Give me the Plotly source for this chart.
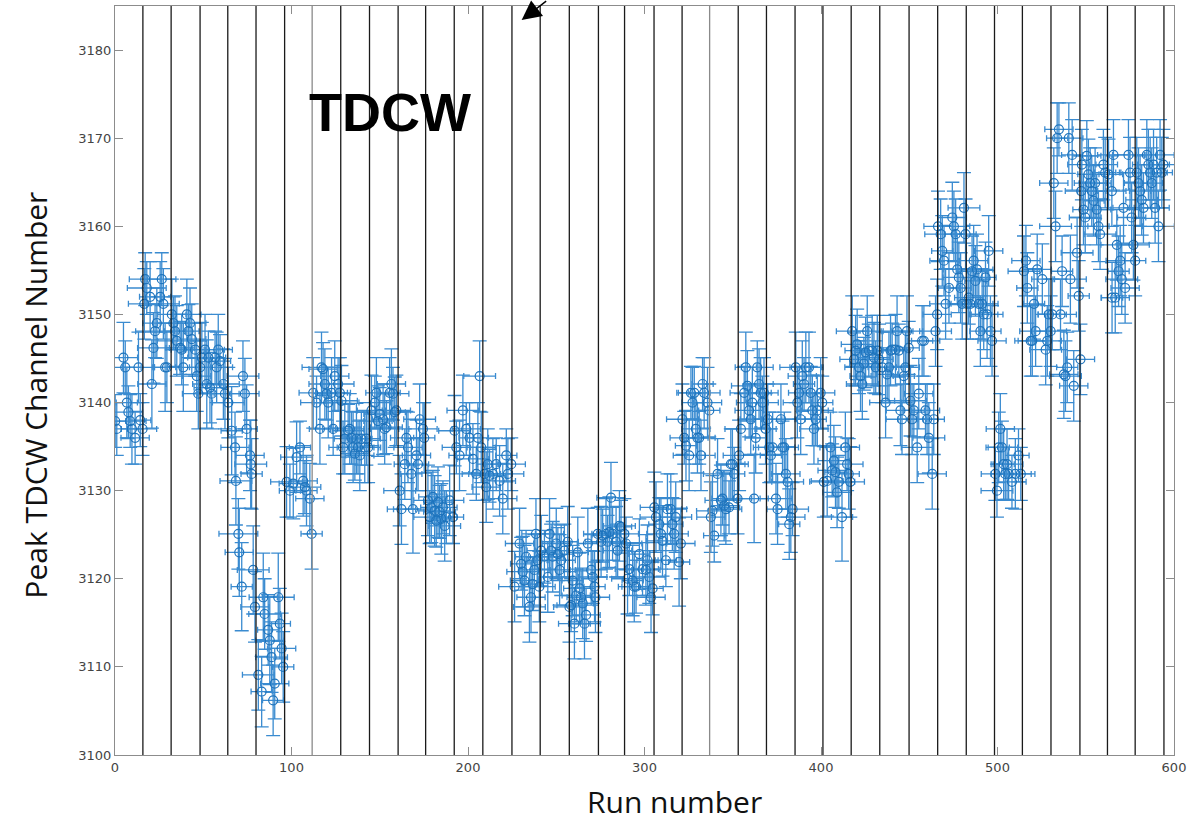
import plotly.graph_objects as go

# ---------------- data ----------------
RUN = [
    0.1, 1.0, 4.8, 5.8, 6.7, 7.6, 8.6, 9.6, 11.4, 13.3, 14.3, 15.6,
    16.6, 17.1, 18.0, 19.9, 20.9, 21.8, 22.7, 23.7, 25.6, 26.5, 27.4, 28.4, 29.4,
    32.2, 33.1, 34.0, 35.0, 36.9, 37.8, 38.7, 40.7, 41.6, 42.5, 43.5, 45.4, 46.3,
    47.2, 48.2, 49.2, 51.0, 52.0, 52.9, 53.8, 54.8, 56.7, 57.6, 58.5, 59.5, 61.4,
    62.3, 64.2, 66.1, 68.0, 68.5, 69.9, 70.4, 71.8, 72.5, 73.6, 74.6, 76.5, 76.9, 77.4,
    78.3, 79.3, 81.2, 83.1, 84.0, 84.8, 86.8, 87.7, 88.7, 89.6, 90.5, 92.5, 93.4, 94.4, 95.3,
    97.2, 99.1, 101.0, 102.9, 104.8, 106.6, 107.6, 108.5, 110.4, 111.4,
    112.3, 114.2, 116.1, 117.0, 117.9, 118.9, 119.9, 120.8, 122.7, 123.6, 124.5, 126.4, 127.4,
    128.3, 129.2, 130.2, 132.1, 133.0, 134.0, 134.9, 135.9, 136.8, 137.7, 138.7, 139.6, 141.5, 142.4, 143.4,
    145.3, 147.2, 148.1, 149.0, 150.0, 151.9, 152.8, 153.8, 155.6, 156.6, 157.5, 158.5, 159.4,
    161.3, 162.3, 164.2, 165.1, 166.0, 167.9, 168.8, 170.8, 171.7, 172.6, 174.5, 175.2,
    177.3, 178.3, 179.2, 180.1, 181.1, 182.0, 183.0, 183.9, 184.9, 185.8, 186.8, 187.7, 189.6, 191.5,
    192.4, 193.4, 195.2, 197.1, 199.0, 200.9, 202.8, 204.7, 205.6, 206.6, 207.5,
    209.4, 210.3, 211.2, 212.2, 214.1, 216.0, 217.9, 219.7, 221.7, 222.6, 224.5,
    226.4, 229.2, 230.1, 231.0, 232.0, 232.9, 234.8, 235.7, 236.6, 237.6, 238.5, 239.4, 240.4,
    241.5, 243.3, 245.2, 246.2, 247.1, 248.0, 250.0, 250.9, 251.9, 252.8, 254.6, 256.5,
    257.5, 258.4, 259.3, 260.3, 261.3, 262.2, 263.2, 264.1, 265.0, 266.0, 266.9, 267.9, 269.8, 270.7, 271.7, 272.2,
    273.5, 275.4, 276.3, 278.2, 279.1, 280.1, 281.0, 281.9, 283.9, 284.8, 285.8, 286.7, 288.6, 289.5,
    290.4, 291.4, 293.3, 294.2, 295.2, 297.1, 298.9, 300.8, 301.7, 302.7, 303.7, 304.6,
    305.6, 306.5, 308.4, 309.3, 310.2, 312.1, 313.0, 314.9, 315.8, 316.8, 317.7, 319.6, 320.6,
    321.5, 322.5, 323.5, 325.3, 326.3, 327.2, 328.2, 329.1, 330.0, 331.0, 332.0, 332.9, 333.8, 335.7, 336.7,
    337.6, 338.5, 339.5, 341.4, 343.3, 344.2, 345.1, 346.1, 347.9, 348.9, 349.8, 350.8, 352.7, 353.6,
    354.6, 356.5, 357.4, 358.3, 359.3, 360.2, 361.1, 362.1, 363.0, 363.9, 364.9, 365.8, 366.8, 367.7, 368.6,
    369.8, 370.7, 371.6, 372.6, 374.5, 375.4, 377.3, 378.2, 379.2, 380.1, 381.1, 382.0, 382.9, 383.9,
    385.7, 386.6, 387.6, 388.5, 389.4, 390.4, 391.4, 393.2, 394.2, 395.1, 396.0, 397.0, 397.9, 399.8, 400.7,
    401.6, 403.5, 405.4, 406.3, 407.3, 408.2, 409.1, 410.1, 411.9, 413.8, 414.8, 415.7, 416.6,
    417.7, 418.7, 419.6, 420.5, 421.5, 422.4, 423.4, 424.3, 425.3, 426.2, 427.1, 429.0, 430.0, 431.0, 431.9, 432.9,
    434.7, 436.6, 437.5, 438.5, 439.4, 440.3, 442.2, 443.1, 444.1, 445.0, 445.9, 446.9, 447.8, 448.7, 449.7,
    450.7, 451.6, 452.6, 454.5, 455.4, 457.3, 458.3, 459.2, 460.1, 461.1, 463.0, 463.9, 464.9, 465.8,
    466.3, 467.8, 468.7, 469.7, 470.6, 472.5, 474.4, 475.3, 476.3, 477.2, 478.1, 479.1, 480.0, 481.0, 481.9,
    482.7, 483.7, 484.6, 485.6, 486.5, 487.5, 488.4, 489.4, 490.3, 491.3, 492.2, 493.2, 494.1, 495.0, 496.0, 496.9,
    498.8, 499.7, 500.7, 501.6, 502.5, 503.5, 504.4, 505.4, 506.3, 508.2, 510.1, 511.9, 513.2,
    515.0, 516.1, 516.9, 518.8, 519.7, 520.7, 521.6, 522.5, 525.4, 527.3, 528.2, 529.1, 530.1, 531.0,
    531.9, 532.9, 533.8, 534.8, 535.7, 536.6, 537.6, 538.5, 539.5, 540.4, 541.3, 542.3, 543.2, 545.1, 546.0, 547.0,
    547.4, 547.8, 548.7, 549.7, 550.6, 551.5, 552.5, 553.4, 554.4, 555.3, 556.2, 557.2, 558.1, 560.0, 561.0, 562.9,
    564.8, 565.7, 564.9, 566.7, 567.6, 568.6, 569.5, 570.4, 571.4, 572.3, 574.2, 575.1, 576.0, 577.0, 578.0,
    578.9, 579.9, 580.8, 581.7, 582.7, 584.6, 585.5, 586.5, 587.4, 588.4, 589.3, 590.2, 591.2, 592.1, 593.1, 594.0,
]

PEAK = [
    3137.9, 3137.0, 3145.1, 3144.0, 3140.0, 3138.9, 3137.9, 3137.0, 3136.0, 3144.0, 3138.0, 3137.0,
    3151.2, 3154.0, 3153.0, 3152.0, 3142.1, 3146.2, 3148.1, 3149.0, 3152.0, 3154.0, 3151.2, 3144.0, 3144.0,
    3150.0, 3149.0, 3148.1, 3147.0, 3146.2, 3146.0, 3144.0, 3150.0, 3148.1, 3149.0, 3147.2, 3146.0, 3143.0,
    3141.0, 3144.0, 3145.1, 3146.0, 3142.1, 3145.1, 3141.7, 3141.0, 3145.1, 3144.0, 3146.0, 3144.7, 3142.1,
    3141.0, 3140.0, 3136.8, 3134.9, 3131.1, 3125.1, 3123.0, 3119.1, 3143.0, 3141.0, 3137.0, 3134.0, 3133.0, 3131.9,
    3121.0, 3116.8, 3109.1, 3107.2, 3117.9, 3116.0, 3114.2, 3113.0, 3111.1, 3106.2, 3108.1, 3117.9, 3114.9, 3112.1, 3110.0,
    3131.0, 3130.0, 3130.8, 3133.8, 3134.9, 3131.1, 3130.4, 3130.0, 3129.1, 3125.1,
    3141.1, 3140.0, 3137.0, 3144.0, 3143.8, 3142.1, 3141.0, 3140.0, 3141.1, 3137.0, 3143.0, 3142.1, 3141.1,
    3140.2, 3134.9, 3135.9, 3136.8, 3137.0, 3136.0, 3134.9, 3134.2, 3135.9, 3134.9, 3134.0, 3135.9, 3134.9, 3135.9, 3134.9,
    3139.1, 3140.0, 3141.1, 3137.9, 3138.7, 3138.1, 3137.0, 3137.2, 3141.1, 3142.1, 3141.0, 3138.9, 3139.1,
    3130.0, 3127.9, 3133.0, 3136.0, 3134.9, 3131.9, 3127.9, 3134.0, 3133.0, 3138.1, 3137.0, 3136.0,
    3128.9, 3127.0, 3128.1, 3129.3, 3127.7, 3126.6, 3128.7, 3127.6, 3126.8, 3128.1, 3126.0, 3127.0, 3128.9, 3127.0,
    3136.8, 3134.9, 3134.0, 3139.1, 3137.0, 3136.0, 3133.6, 3131.9, 3136.0, 3143.0, 3134.9,
    3131.9, 3130.4, 3133.0, 3131.7, 3131.9, 3133.0, 3131.1, 3129.1, 3134.0, 3131.9, 3133.0,
    3119.1, 3124.0, 3121.7, 3120.8, 3119.8, 3122.5, 3116.8, 3117.9, 3119.4, 3121.0, 3125.1, 3122.1, 3119.1,
    3123.2, 3122.5, 3120.2, 3125.1, 3123.2, 3122.5, 3124.0, 3122.8, 3121.0, 3122.1, 3123.2, 3124.2,
    3116.8, 3117.0, 3119.8, 3114.9, 3118.1, 3123.0, 3118.9, 3117.9, 3117.2, 3114.9, 3115.9, 3124.0, 3121.0, 3120.2, 3119.1, 3117.9,
    3125.1, 3124.2, 3124.9, 3125.1, 3124.2, 3125.3, 3129.2, 3125.1, 3124.2, 3123.2, 3126.0, 3125.9, 3125.1, 3124.0,
    3120.0, 3121.1, 3119.8, 3119.1, 3119.1, 3122.8, 3121.1, 3121.0, 3122.1, 3120.2, 3117.9, 3118.9,
    3128.1, 3127.0, 3126.2, 3125.1, 3124.3, 3122.1, 3127.9, 3127.9, 3126.2, 3125.1, 3127.0, 3121.9, 3124.0,
    3138.1, 3136.0, 3135.1, 3134.0, 3141.1, 3140.0, 3141.1, 3137.0, 3136.0, 3136.0, 3134.0, 3142.1, 3141.1, 3140.0, 3139.1,
    3127.0, 3127.7, 3124.9, 3131.9, 3128.9, 3129.1, 3128.3, 3127.9, 3128.1, 3133.0, 3133.0, 3131.9, 3129.1, 3134.0,
    3137.0, 3141.1, 3144.0, 3141.9, 3139.1, 3138.1, 3140.0, 3129.1, 3136.0, 3144.0, 3142.1, 3141.1, 3140.0, 3141.1, 3137.0,
    3138.1, 3134.9, 3134.0, 3134.9, 3129.1, 3127.9, 3138.1, 3134.9, 3134.9, 3131.9, 3131.0, 3126.2, 3127.0, 3127.9,
    3144.0, 3140.0, 3141.1, 3138.1, 3143.0, 3142.1, 3144.0, 3144.0, 3141.1, 3139.1, 3137.0, 3138.1, 3139.1, 3141.1, 3140.0,
    3131.0, 3131.1, 3134.9, 3132.3, 3133.4, 3132.1, 3129.8, 3131.0, 3127.0, 3134.9, 3133.0, 3131.9, 3131.0,
    3148.1, 3144.9, 3145.9, 3146.6, 3144.0, 3143.0, 3142.1, 3144.4, 3145.7, 3148.1, 3145.9, 3145.9, 3145.1, 3144.0, 3145.9, 3144.9,
    3144.0, 3140.0, 3143.2, 3144.0, 3145.9, 3146.0, 3146.0, 3148.1, 3145.9, 3139.1, 3138.1, 3143.0, 3144.0, 3148.1, 3146.2,
    3140.2, 3138.1, 3139.1, 3134.9, 3141.0, 3147.0, 3147.0, 3139.1, 3138.1, 3136.0, 3131.9, 3138.1, 3148.1, 3150.0,
    3160.0, 3159.1, 3157.2, 3156.1, 3151.2, 3153.0, 3161.0, 3160.0, 3159.1, 3155.1, 3154.2, 3153.0, 3151.2, 3162.1, 3159.1,
    3151.2, 3151.9, 3151.2, 3154.9, 3156.1, 3153.8, 3155.1, 3151.2, 3148.1, 3151.2, 3150.0, 3154.2, 3150.0, 3157.2, 3148.1, 3147.0,
    3131.9, 3130.0, 3134.9, 3137.0, 3134.9, 3133.0, 3131.9, 3133.0, 3131.9, 3131.0, 3131.9, 3134.0, 3131.9,
    3154.9, 3156.1, 3153.0, 3147.0, 3147.0, 3151.2, 3148.1, 3155.1, 3154.0, 3146.0, 3147.0, 3150.0, 3148.1, 3150.0,
    3164.9, 3160.0, 3170.0, 3171.0, 3150.0, 3154.9, 3143.2, 3143.0, 3144.0, 3170.0, 3154.0, 3168.1, 3141.9, 3157.0, 3152.1, 3144.9,
    3164.0, 3167.0, 3161.9, 3161.0, 3168.0, 3165.9, 3164.9, 3164.0, 3162.9, 3164.9, 3161.9, 3160.0, 3159.1, 3167.0, 3166.1, 3165.9,
    3164.0, 3168.1, 3151.9, 3151.9, 3157.9, 3154.9, 3156.1, 3154.0, 3162.1, 3153.0, 3168.1, 3166.1, 3161.0, 3157.9, 3156.1,
    3166.1, 3164.9, 3164.0, 3163.0, 3162.1, 3168.1, 3167.0, 3166.1, 3164.9, 3167.0, 3162.1, 3166.1, 3160.0, 3168.1, 3166.1, 3167.0,
]

# half-widths of the horizontal (run) error bars
RUN_ERR = [
    6, 6, 8, 9, 6, 8, 9, 6, 8, 9, 6, 8,
    9, 9, 11, 6, 8, 9, 11, 8, 6, 8, 9, 6, 8,
    8, 9, 6, 11, 8, 6, 9, 8, 6, 9, 8, 6, 8,
    9, 6, 8, 11, 8, 6, 9, 8, 6, 9, 8, 6, 9,
    8, 9, 6, 8, 9, 11, 8, 6, 9, 8, 6, 8, 9, 6,
    9, 8, 9, 6, 8, 9, 6, 8, 9, 6, 8, 9, 6, 8, 6,
    9, 6, 8, 9, 6, 8, 9, 6, 8, 6,
    8, 9, 6, 11, 8, 9, 6, 8, 9, 6, 8, 9, 6,
    9, 8, 6, 9, 8, 6, 9, 8, 6, 9, 8, 6, 9, 8, 6,
    8, 9, 6, 8, 9, 6, 8, 9, 6, 8, 9, 6, 8,
    9, 8, 6, 9, 8, 6, 11, 8, 6, 9, 8, 6,
    8, 9, 6, 8, 9, 6, 8, 9, 6, 8, 9, 6, 8, 6,
    9, 8, 6, 9, 8, 6, 9, 8, 6, 9, 8,
    9, 8, 6, 9, 11, 6, 9, 8, 6, 9, 8,
    9, 8, 6, 9, 8, 6, 9, 8, 6, 9, 8, 6, 9,
    8, 9, 6, 8, 9, 6, 8, 9, 6, 8, 9, 6,
    9, 8, 6, 9, 8, 6, 9, 8, 6, 9, 8, 6, 9, 8, 6, 8,
    8, 9, 6, 8, 9, 6, 8, 9, 6, 8, 9, 6, 8, 9,
    9, 8, 6, 9, 8, 6, 9, 8, 6, 9, 8, 6,
    8, 9, 6, 8, 9, 6, 8, 9, 6, 8, 9, 6, 8,
    9, 8, 6, 9, 8, 6, 9, 8, 6, 9, 8, 6, 9, 8, 6,
    8, 9, 6, 8, 9, 6, 8, 9, 6, 8, 9, 6, 8, 9,
    9, 8, 6, 9, 8, 6, 9, 8, 6, 9, 8, 6, 9, 8, 6,
    8, 9, 6, 8, 9, 6, 8, 9, 6, 8, 9, 6, 8, 9,
    9, 8, 6, 9, 8, 6, 9, 8, 6, 9, 8, 6, 9, 8, 6,
    8, 9, 6, 8, 9, 6, 8, 9, 6, 8, 9, 6, 8,
    9, 8, 6, 9, 8, 6, 9, 8, 6, 9, 8, 6, 9, 8, 6, 8,
    8, 9, 6, 8, 9, 6, 8, 9, 6, 8, 9, 6, 8, 9, 6,
    9, 8, 6, 9, 8, 6, 9, 8, 6, 9, 8, 6, 9, 8,
    8, 9, 6, 8, 9, 6, 8, 9, 6, 8, 9, 6, 8, 9, 6,
    9, 8, 6, 9, 8, 6, 9, 8, 6, 9, 8, 6, 9, 8, 6, 8,
    8, 9, 6, 8, 9, 6, 8, 9, 6, 8, 9, 6, 8,
    9, 8, 6, 9, 8, 6, 9, 8, 6, 9, 8, 6, 9, 8,
    8, 9, 6, 8, 9, 6, 8, 9, 6, 8, 9, 6, 8, 9, 6, 8,
    9, 8, 6, 9, 8, 6, 9, 8, 6, 9, 8, 6, 9, 8, 6, 8,
    8, 9, 6, 8, 9, 6, 8, 9, 6, 8, 9, 6, 8, 9, 6,
    9, 8, 6, 9, 8, 6, 9, 8, 6, 9, 8, 6, 9, 8, 6, 8,
]

# half-heights of the vertical (peak) error bars
PEAK_ERR = [
    3, 3, 4, 3, 4, 3, 3, 4, 3, 4, 3, 3,
    4, 3, 3, 4, 5, 4, 3, 4, 4, 3, 4, 5, 4,
    4, 3, 4, 4, 3, 4, 5, 4, 3, 4, 4, 3, 4,
    4, 3, 4, 4, 5, 3, 4, 4, 3, 4, 4, 3, 4,
    4, 4, 5, 4, 5, 4, 5, 5, 4, 4, 5, 4, 5, 4,
    5, 4, 4, 4, 5, 4, 4, 5, 4, 4, 4, 5, 4, 4, 4,
    4, 3, 4, 4, 3, 4, 3, 4, 4, 4,
    4, 3, 4, 4, 3, 4, 3, 4, 4, 3, 4, 3, 4,
    4, 3, 4, 3, 4, 3, 4, 3, 4, 3, 4, 3, 4, 3, 4,
    4, 3, 4, 4, 3, 4, 4, 3, 4, 4, 3, 4, 4,
    4, 4, 4, 3, 4, 4, 5, 4, 3, 4, 3, 4,
    4, 3, 4, 3, 4, 3, 4, 3, 4, 3, 4, 3, 4, 3,
    4, 3, 4, 4, 3, 4, 4, 3, 4, 4, 4,
    3, 4, 4, 3, 4, 3, 4, 4, 3, 4, 3,
    4, 4, 3, 4, 4, 3, 4, 4, 3, 4, 4, 3, 4,
    4, 3, 4, 4, 3, 4, 4, 3, 4, 4, 3, 4,
    4, 3, 4, 4, 3, 4, 4, 3, 4, 4, 3, 4, 4, 3, 4, 4,
    3, 4, 3, 4, 3, 4, 4, 3, 4, 3, 4, 3, 4, 3,
    4, 3, 4, 4, 3, 4, 3, 4, 4, 3, 4, 3,
    4, 4, 3, 4, 4, 3, 4, 4, 3, 4, 4, 5, 4,
    4, 3, 4, 4, 3, 4, 3, 4, 4, 3, 4, 3, 4, 4, 3,
    4, 4, 3, 4, 4, 3, 4, 4, 3, 4, 4, 3, 4, 4,
    4, 3, 4, 4, 3, 4, 4, 5, 4, 3, 4, 4, 3, 4, 4,
    4, 4, 3, 4, 4, 4, 4, 3, 4, 4, 4, 4, 4, 3,
    4, 4, 3, 4, 4, 3, 4, 4, 3, 4, 4, 3, 4, 4, 3,
    4, 4, 4, 3, 4, 4, 4, 3, 5, 4, 3, 4, 4,
    4, 3, 4, 4, 3, 4, 4, 3, 4, 4, 3, 4, 4, 3, 4, 4,
    4, 4, 3, 4, 4, 3, 4, 4, 3, 4, 4, 3, 4, 4, 3,
    4, 4, 3, 4, 4, 4, 4, 3, 4, 4, 4, 4, 4, 4,
    4, 4, 4, 4, 4, 4, 4, 4, 4, 4, 4, 4, 4, 4, 4,
    4, 3, 4, 4, 4, 4, 4, 4, 4, 4, 4, 4, 5, 4, 4, 4,
    3, 3, 4, 4, 3, 4, 3, 4, 3, 3, 4, 3, 3,
    4, 4, 4, 4, 4, 4, 4, 4, 4, 4, 4, 4, 4, 4,
    4, 4, 4, 3, 4, 4, 5, 4, 4, 4, 5, 4, 4, 4, 4, 4,
    4, 4, 4, 4, 4, 4, 4, 4, 4, 4, 4, 4, 4, 4, 4, 4,
    4, 4, 4, 4, 4, 4, 4, 4, 4, 4, 4, 4, 4, 4, 4,
    4, 4, 4, 4, 4, 4, 4, 4, 4, 4, 4, 4, 4, 4, 4, 4,
]

# run numbers of the vertical separator lines
SEPARATOR_RUNS = [15.8, 31.8, 48.2, 63.9, 79.9, 96.1, 111.7, 127.9, 144.2, 160.4,
                  176.0, 192.2, 208.4, 224.9, 240.9, 257.4, 273.9, 288.7, 305.4,
                  321.3, 336.9, 353.1, 369.1, 385.3, 401.1, 417.1, 433.3, 449.9,
                  466.1, 482.3, 498.3, 514.1, 530.3, 546.7, 562.3, 578.0, 594.3]
GRAY_SEPARATORS = [111.7, 336.9]

X_TICKS = [0, 100, 200, 300, 400, 500, 600]
Y_TICKS = [3100, 3110, 3120, 3130, 3140, 3150, 3160, 3170, 3180]

LABEL_TEXT = "TDCW"
LABEL_RUN, LABEL_PEAK = 155.8, 3173.0
ARROW_RUN, ARROW_PEAK = 230.4, 3183.4

# ---------------- figure ----------------
n = min(len(RUN), len(PEAK), len(RUN_ERR), len(PEAK_ERR))
blue = "#1e74bd"
err_blue = "#3a8bd0"

fig = go.Figure()
fig.add_trace(go.Scatter(
    x=RUN[:n], y=PEAK[:n], mode="markers",
    marker=dict(symbol="circle-open", size=9, color=blue, line=dict(width=1.2, color=blue)),
    error_x=dict(type="data", array=RUN_ERR[:n], visible=True, color=err_blue, thickness=1.3, width=3),
    error_y=dict(type="data", array=PEAK_ERR[:n], visible=True, color=err_blue, thickness=1.3, width=7),
    showlegend=False,
))

shapes = []
for r in SEPARATOR_RUNS:
    col = "#8a8a8a" if r in GRAY_SEPARATORS else "#1a1a1a"
    shapes.append(dict(type="line", xref="x", yref="paper", x0=r, x1=r, y0=0, y1=1,
                       line=dict(color=col, width=1.3), layer="above"))

axis_common = dict(showgrid=False, zeroline=False, showline=True, linecolor="#8c8c8c",
                   linewidth=1, mirror="ticks", ticks="inside", ticklen=8,
                   tickcolor="#8c8c8c", tickwidth=1,
                   tickfont=dict(family="DejaVu Sans", size=13, color="#444444"))

fig.update_layout(
    width=1191, height=824,
    margin=dict(l=115, r=15, t=5, b=69),
    paper_bgcolor="white", plot_bgcolor="white",
    xaxis=dict(range=[0, 600], tickvals=X_TICKS, ticktext=[str(v) for v in X_TICKS], **axis_common),
    yaxis=dict(range=[3100, 3185], tickvals=Y_TICKS, ticktext=[str(v) for v in Y_TICKS], **axis_common),
    shapes=shapes,
    annotations=[
        dict(x=LABEL_RUN, y=LABEL_PEAK, xref="x", yref="y", text="<b>" + LABEL_TEXT + "</b>",
             showarrow=False, font=dict(family="Liberation Sans", size=54, color="black")),
        dict(x=ARROW_RUN, y=ARROW_PEAK, xref="x", yref="y", text="", showarrow=True,
             ax=26, ay=-22, arrowhead=2, arrowsize=2.6, arrowwidth=1.5, arrowcolor="black"),
        dict(x=0.528, y=-0.0627, xref="paper", yref="paper", text="Run number",
             showarrow=False, xanchor="center", yanchor="middle",
             font=dict(family="Open Sans", size=30, color="#111111")),
        dict(x=-0.0754, y=0.48, xref="paper", yref="paper", text="Peak TDCW Channel Number",
             showarrow=False, textangle=-90, xanchor="center", yanchor="middle",
             font=dict(family="Open Sans", size=30, color="#111111")),
    ],
)

fig.write_html("out.html")
